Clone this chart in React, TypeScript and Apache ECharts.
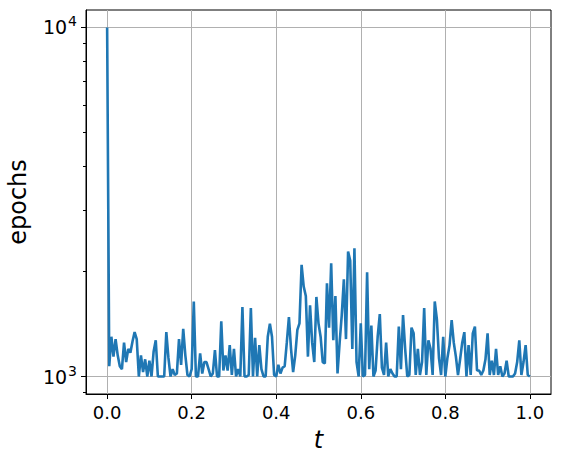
import React, { useEffect, useRef } from "react";
import * as echarts from "echarts";

// t grid: 201 evenly spaced samples from 0 to 1
const tValues: number[] = Array.from({ length: 201 }, (_, i) => i / 200);

const epochs: number[] = [
  10000, 1070, 1300, 1140, 1280, 1150, 1070, 1050, 1250, 1100,
  1200, 1170, 1260, 1340, 1280, 1000, 1150, 1030, 1120, 1000,
  1110, 1000, 1180, 1270, 1000, 1000, 1000, 1000, 1340, 1130,
  1000, 1050, 1010, 1020, 1280, 1080, 1370, 1150, 1010, 1000,
  1050, 1640, 1000, 1000, 1165, 1020, 1100, 1100, 1050, 1000,
  1020, 1190, 1000, 1000, 1440, 1040, 1150, 1040, 1230, 1010,
  1200, 1000, 1050, 1000, 1580, 1000, 1000, 1010, 1570, 1000,
  1290, 1000, 1230, 1050, 1000, 1000, 1300, 1417, 1300, 1010,
  1000, 1080, 1020, 1060, 1070, 1250, 1480, 1200, 1030, 1150,
  1360, 1420, 2090, 1810, 1700, 1140, 1600, 1250, 1100, 1690,
  1420, 1300, 1100, 1090, 1850, 1380, 2110, 1270, 1700, 1020,
  1250, 1500, 1900, 1280, 2280, 2150, 1200, 2330, 1100, 1000,
  1420, 1000, 1010, 1990, 1050, 1400, 1000, 1040, 1300, 1510,
  1060, 1010, 1250, 1000, 1050, 1020, 1000, 1000, 1390, 1050,
  1500, 1200, 1000, 1010, 1380, 1330, 1010, 1200, 1010, 1100,
  1570, 1010, 1270, 1200, 1010, 1640, 1460, 1130, 1010, 1300,
  1000, 1130, 1230, 1450, 1250, 1140, 1010, 1120, 1250, 1340,
  1000, 1230, 1010, 1330, 1390, 1040, 1040, 1010, 1040, 1120,
  1330, 1010, 1110, 1010, 1200, 1010, 1070, 1000, 1020, 1110,
  1000, 1000, 1000, 1020, 1100, 1270, 1010, 1100, 1230, 1010,
  1000,
];

const xTicks: number[] = [0, 0.2, 0.4, 0.6, 0.8, 1.0];
const yMajorTicks: number[] = [1000, 10000];
const yMinorTicks: number[] = [900, 2000, 3000, 4000, 5000, 6000, 7000, 8000, 9000];

const FONT = "DejaVu Sans";

export default function App() {
  const ref = useRef<HTMLDivElement>(null);

  useEffect(() => {
    if (!ref.current) return;
    const chart = echarts.init(ref.current, undefined, { renderer: "svg" });
    const data = tValues.map((t, i) => [t, epochs[i]]);
    chart.setOption({
      animation: false,
      backgroundColor: "#ffffff",
      grid: {
        left: 86,
        right: 10,
        top: 10,
        bottom: 70,
        outerBoundsMode: "none",
        containLabel: false,
        show: true,
        borderColor: "#000000",
        borderWidth: 1,
        backgroundColor: "transparent",
      },
      xAxis: {
        type: "value",
        min: -0.05,
        max: 1.05,
        name: "t",
        nameLocation: "middle",
        nameGap: 34,
        nameTextStyle: {
          fontFamily: FONT,
          fontSize: 24,
          fontStyle: "italic",
          color: "#000",
        },
        axisLine: { show: true, onZero: false, lineStyle: { color: "#000", width: 1 } },
        axisTick: {
          show: true,
          inside: false,
          length: 5,
          customValues: xTicks,
          lineStyle: { color: "#000", width: 1 },
        },
        axisLabel: {
          customValues: xTicks,
          fontFamily: FONT,
          fontSize: 18,
          color: "#000",
          margin: 9,
          formatter: (v: number) => v.toFixed(1),
        },
        splitLine: { show: true, lineStyle: { color: "#b0b0b0", width: 1 } },
      },
      yAxis: [
        {
          type: "log",
          logBase: 10,
          min: 891,
          max: 11220,
          position: "left",
          name: "epochs",
          nameLocation: "middle",
          nameGap: 56,
          nameTextStyle: {
            fontFamily: FONT,
            fontSize: 24,
            color: "#000",
          },
          axisLine: { show: true, onZero: false, lineStyle: { color: "#000", width: 1 } },
          axisTick: {
            show: true,
            length: 5,
            customValues: yMajorTicks,
            lineStyle: { color: "#000", width: 1 },
          },
          axisLabel: {
            customValues: yMajorTicks,
            margin: 9,
            formatter: (v: number) => `{b|10}{s|${Math.round(Math.log10(v))}}`,
            rich: {
              b: { fontFamily: FONT, fontSize: 19, color: "#000", lineHeight: 26 },
              s: { fontFamily: FONT, fontSize: 14, color: "#000", verticalAlign: "top", padding: [0, 0, 0, 1] },
            },
          },
          splitLine: { show: true, lineStyle: { color: "#b0b0b0", width: 1 } },
        },
        {
          type: "log",
          logBase: 10,
          min: 891,
          max: 11220,
          position: "left",
          offset: 0,
          axisLine: { show: false, onZero: false },
          axisTick: {
            show: true,
            length: 3,
            customValues: yMinorTicks,
            lineStyle: { color: "#000", width: 1 },
          },
          axisLabel: { show: false },
          splitLine: { show: false },
        },
      ],
      series: [
        {
          type: "line",
          data,
          yAxisIndex: 0,
          showSymbol: false,
          symbol: "none",
          lineStyle: { color: "#1f77b4", width: 2.6 },
          clip: true,
        },
      ],
    });
    return () => chart.dispose();
  }, []);

  return (
    <div
      ref={ref}
      style={{ position: "absolute", left: 0, top: 0, width: 561, height: 464 }}
    />
  );
}
